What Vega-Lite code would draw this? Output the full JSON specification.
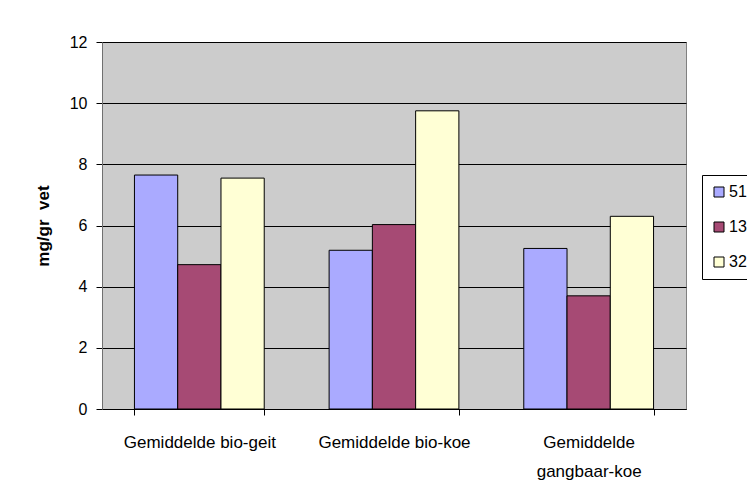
{
  "$schema": "https://vega.github.io/schema/vega-lite/v6.json",
  "width": 584,
  "height": 367,
  "autosize": "none",
  "padding": {"left": 102, "top": 42, "right": 61, "bottom": 92},
  "background": "white",
  "data": {
    "values": [
      {"groep": "Gemiddelde bio-geit", "serie": "51", "waarde": 7.65},
      {"groep": "Gemiddelde bio-geit", "serie": "13", "waarde": 4.72},
      {"groep": "Gemiddelde bio-geit", "serie": "32", "waarde": 7.55},
      {"groep": "Gemiddelde bio-koe", "serie": "51", "waarde": 5.19},
      {"groep": "Gemiddelde bio-koe", "serie": "13", "waarde": 6.03},
      {"groep": "Gemiddelde bio-koe", "serie": "32", "waarde": 9.75},
      {"groep": "Gemiddelde gangbaar-koe", "serie": "51", "waarde": 5.25},
      {"groep": "Gemiddelde gangbaar-koe", "serie": "13", "waarde": 3.7},
      {"groep": "Gemiddelde gangbaar-koe", "serie": "32", "waarde": 6.3}
    ]
  },
  "mark": {"type": "bar", "stroke": "black", "strokeWidth": 1},
  "encoding": {
    "x": {
      "field": "groep",
      "type": "nominal",
      "sort": ["Gemiddelde bio-geit", "Gemiddelde bio-koe", "Gemiddelde gangbaar-koe"],
      "scale": {"paddingInner": 0.3333, "paddingOuter": 0.1667},
      "axis": {
        "title": null,
        "labelAngle": 0,
        "labelFontSize": 17,
        "labelColor": "black",
        "labelPadding": 19,
        "labelLineHeight": 29,
        "labelExpr": "datum.label == 'Gemiddelde gangbaar-koe' ? ['Gemiddelde', 'gangbaar-koe'] : datum.label",
        "tickBand": "extent",
        "tickSize": 6,
        "tickColor": "black",
        "domainColor": "black",
        "grid": false
      }
    },
    "xOffset": {"field": "serie", "type": "nominal", "sort": ["51", "13", "32"]},
    "y": {
      "field": "waarde",
      "type": "quantitative",
      "scale": {"domain": [0, 12], "nice": false},
      "axis": {
        "title": "mg/gr\u00a0 vet",
        "titleFontSize": 17,
        "titleFontWeight": "bold",
        "titleColor": "black",
        "titlePadding": 17,
        "values": [0, 2, 4, 6, 8, 10, 12],
        "labelFontSize": 16,
        "labelColor": "black",
        "labelPadding": 9,
        "tickSize": 6,
        "tickColor": "black",
        "domainColor": "#707070",
        "grid": true,
        "gridColor": "black",
        "gridWidth": 1
      }
    },
    "color": {
      "field": "serie",
      "type": "nominal",
      "sort": ["51", "13", "32"],
      "scale": {"domain": ["51", "13", "32"], "range": ["#AAAAFF", "#A64A74", "#FFFFD5"]},
      "legend": {
        "title": null,
        "orient": "none",
        "legendX": 600,
        "legendY": 133,
        "padding": 9,
        "strokeColor": "black",
        "fillColor": "white",
        "symbolType": "square",
        "symbolSize": 100,
        "symbolStrokeColor": "black",
        "symbolStrokeWidth": 1,
        "symbolOpacity": 1,
        "labelFontSize": 16,
        "labelColor": "black",
        "labelOffset": 2,
        "rowPadding": 19
      }
    }
  },
  "config": {
    "font": "Liberation Sans",
    "view": {"fill": "#CCCCCC", "stroke": "#808080", "strokeWidth": 1}
  }
}
